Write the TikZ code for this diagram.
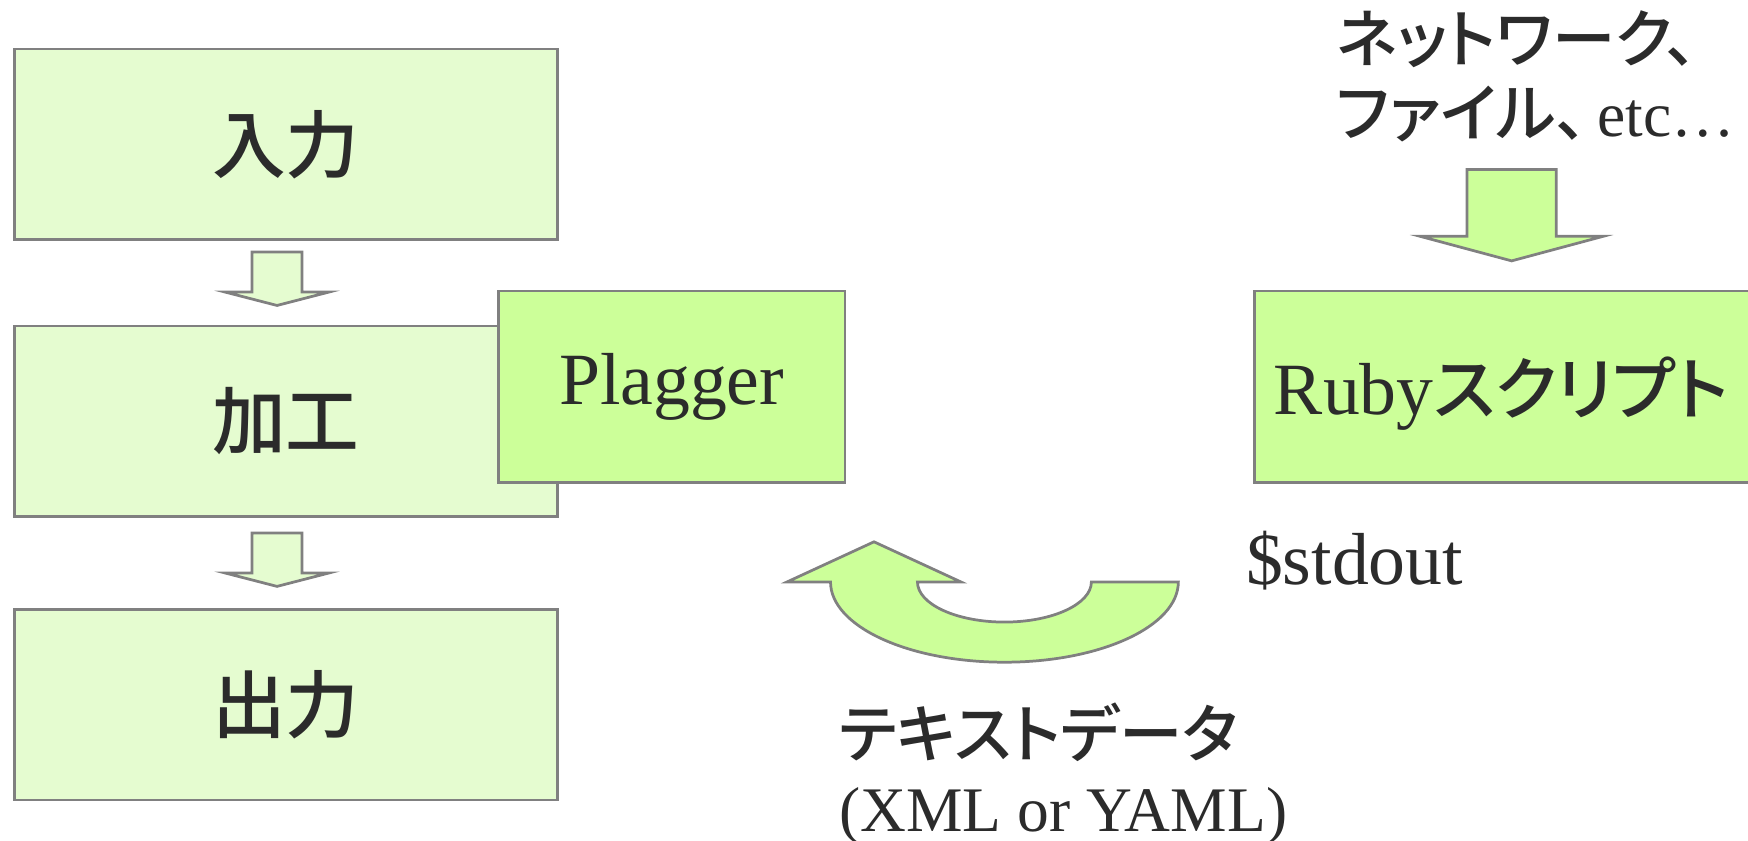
\documentclass[tikz,border=0pt]{standalone}
\usepackage{fontspec}
\setmainfont{Liberation Serif}
\newfontfamily\jp[RawFeature=+palt,UprightFont={* Medium}]{Noto Sans CJK JP}
\usepackage{xcolor}
\definecolor{boxgreen}{HTML}{CCFF99}
\definecolor{palegreen}{HTML}{E5FCD0}
\definecolor{edgegray}{HTML}{808080}
\definecolor{inkgray}{HTML}{2B2B2B}
\newcommand{\bigtext}{\fontsize{18.8}{22}\selectfont}
\newcommand{\smalltext}{\fontsize{16.2}{18.8}\selectfont}

\begin{document}
\begin{tikzpicture}[x=0.01cm,y=-0.01cm,
  stagebox/.style={draw=edgegray,line width=0.7pt,fill=palegreen,minimum width=4.87cm,minimum height=1.71cm,font=\bigtext\jp,text=inkgray},
  toolbox/.style={draw=edgegray,line width=0.7pt,fill=boxgreen,minimum height=1.72cm,font=\bigtext,text=inkgray},
  blockarrow/.style={draw=edgegray,line width=0.7pt,line join=miter},
  note/.style={text=inkgray,inner sep=0,anchor=base west,align=left}]
\useasboundingbox (0,0) rectangle (1568,753.5);
% left column
\node[stagebox] (input) at (256.5,129.5) {入力};
\node[stagebox] (process) at (256.5,378) {加工};
\node[stagebox] (output) at (256.5,632) {出力};
\draw[blockarrow,fill=palegreen] (226,226) -- (271,226) -- (271,262) -- (295,262) -- (248.5,274) -- (202,262) -- (226,262) -- cycle;
\draw[blockarrow,fill=palegreen] (226,478) -- (271,478) -- (271,514) -- (295,514) -- (248.5,526) -- (202,514) -- (226,514) -- cycle;
% tools
\node[toolbox,minimum width=3.11cm] (plagger) at (602.5,347) {Plagger};
\draw[blockarrow,fill=boxgreen] (1125,261) rectangle (1640,433);
\node[note,font=\bigtext] (ruby) at (1142,372) {Ruby{\jp\fontsize{17.5}{20}\selectfont スクリプト}};
\draw[blockarrow,fill=boxgreen] (1316,152) -- (1396,152) -- (1396,212) -- (1438,212) -- (1356,234) -- (1274,212) -- (1316,212) -- cycle;
\node[note,font=\smalltext] (sources) at (1198,122) {{\jp ネットワーク、}\\{\jp ファイル、}\hspace{0.15em}etc…};
% return path
\draw[blockarrow,fill=boxgreen] (1057,522) arc[start angle=0,end angle=180,x radius=156,y radius=72] -- (706,522) -- (784,486) -- (862,522) -- (823,522) arc[start angle=180,end angle=0,x radius=78,y radius=36] -- cycle;
\node[note,font=\bigtext] (stdout) at (1117,524) {\$stdout};
\node[note,font=\smalltext] (format) at (752,746) {{\jp テキストデータ}\\(XML or YAML)};
\end{tikzpicture}
\end{document}
